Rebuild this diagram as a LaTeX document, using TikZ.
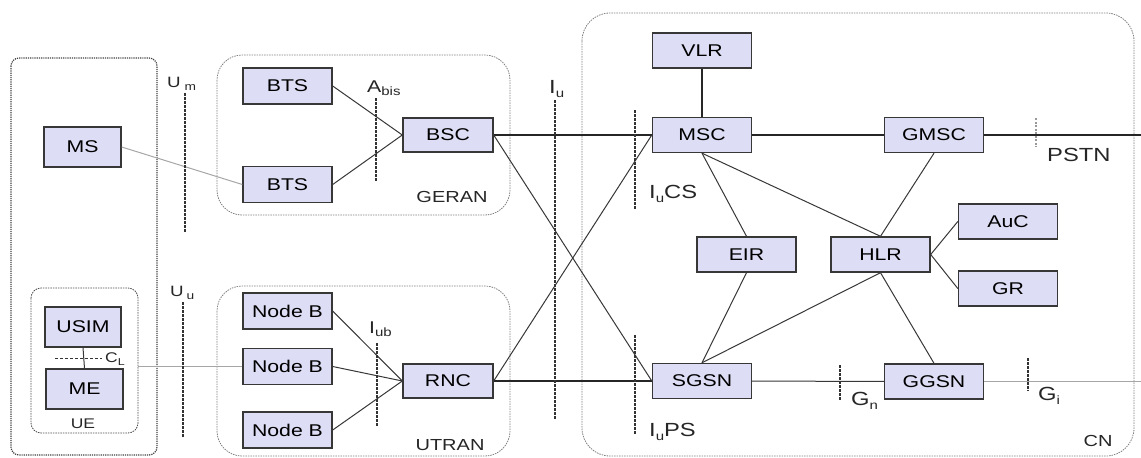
\documentclass[tikz,border=0pt]{standalone}
\usepackage{fontspec}
\setmainfont{Liberation Sans}[FakeStretch=1.25]
\usepackage{tikz}
\usetikzlibrary{calc}
\definecolor{boxfill}{RGB}{221,221,245}
\definecolor{edge}{RGB}{55,55,55}
\newcommand{\fsz}[1]{\fontsize{#1}{#1}\selectfont}
\newcommand{\lowtxt}[2][11]{\raisebox{-0.35ex}{\fsz{#1}#2}}

\begin{document}
\begin{tikzpicture}[x=1pt, y=-1pt,
  unit/.style={draw=edge, fill=boxfill, line width=1.4pt, minimum width=99pt, minimum height=35pt, inner sep=0pt, font=\fsz{17}},
  ranunit/.style={unit, minimum width=89pt, minimum height=36pt},
  termunit/.style={unit, minimum width=77pt, minimum height=40pt},
  group/.style={draw=gray, line width=0.8pt, dash pattern=on 1.5pt off 1pt, rounded corners=25pt},
  iface/.style={draw=black!80, line width=1.3pt, dash pattern=on 2.5pt off 1.5pt},
  link/.style={draw=edge, line width=1pt},
  trunk/.style={draw=black!85, line width=1.2pt},
  faint/.style={draw=gray!70, line width=1pt},
  lbl/.style={anchor=west, inner sep=0pt, text=black!85, font=\fsz{19}}]
\useasboundingbox (0,0) rectangle (1141,458);
% domains
\draw[densely dotted, line width=1.2pt, draw=black!75, rounded corners=8pt] (11,58) rectangle (157,455);
\draw[group, draw=black!70, rounded corners=10pt] (31,288) rectangle (138,433);
\draw[group] (217,55) rectangle (510,215);
\draw[group] (217,286) rectangle (510,456);
\draw[group, rounded corners=28pt] (582,13) rectangle (1134,456);
% terminal
\node[termunit] (ms) at (82.5,147) {MS};
\node[termunit, minimum width=76pt] (usim) at (83,327) {USIM};
\node[termunit] (me) at (84.5,389) {ME};
% access networks
\node[ranunit] (btsa) at (287.5,86) {BTS};
\node[ranunit] (btsb) at (287.5,184.5) {BTS};
\node[ranunit] (nba) at (287.5,311) {Node B};
\node[ranunit] (nbb) at (287.5,366.5) {Node B};
\node[ranunit] (nbc) at (287.5,430) {Node B};
\node[ranunit, minimum width=90pt, minimum height=34pt] (bsc) at (448,135) {BSC};
\node[ranunit, minimum width=90pt, minimum height=34pt] (rnc) at (448,381) {RNC};
% core network
\node[unit] (vlr) at (702,50.5) {VLR};
\node[unit] (msc) at (702,135) {MSC};
\node[unit] (sgsn) at (702,381) {SGSN};
\node[unit] (gmsc) at (934,135) {GMSC};
\node[unit] (ggsn) at (934,381.5) {GGSN};
\node[unit] (eir) at (746.5,254.5) {EIR};
\node[unit] (hlr) at (880.5,254.5) {HLR};
\node[unit] (auc) at (1008,221.5) {AuC};
\node[unit] (gr) at (1008,288.5) {GR};
\coordinate (uerim) at (138,366.5);
\coordinate (pstnend) at (1141,135);
\coordinate (giend) at (1141,381.5);
% links
\draw[link] (usim.south) -- (me.north);
\draw[black!80, line width=1pt, dash pattern=on 3pt off 2pt] (55,358) -- (102,358);
\draw[faint] (ms.east) -- (btsb.west);
\draw[faint] (uerim) -- (nbb.west);
\draw[link] (btsa.east) -- (bsc.west);
\draw[link] (btsb.east) -- (bsc.west);
\foreach \n in {nba,nbb,nbc} \draw[link] (\n.east) -- (rnc.west);
\draw[trunk] (bsc.east) -- (msc.west);
\draw[trunk] (rnc.east) -- (sgsn.west);
\draw[link] (bsc.east) -- (sgsn.west);
\draw[link] (rnc.east) -- (msc.west);
\draw[trunk] (vlr) -- (msc);
\draw[trunk] (msc) -- (gmsc);
\draw[trunk] (gmsc.east) -- (pstnend);
\draw[link] (msc.south) -- (eir.north);
\draw[link] (msc.south) -- (hlr.north);
\draw[link] (gmsc.south) -- (hlr.north);
\draw[link] (eir.south) -- (sgsn.north);
\draw[link] (hlr.south) -- (sgsn.north);
\draw[link] (hlr.south) -- (ggsn.north);
\draw[link] (hlr.east) -- (auc.west);
\draw[link] (hlr.east) -- (gr.west);
\draw[link] (sgsn) -- (ggsn);
\draw[faint] (ggsn.east) -- (giend);
% interfaces
\draw[iface] (185,93) -- (185,233);
\draw[iface] (183,302) -- (183,438);
\draw[iface] (376,98) -- (376,182);
\draw[iface] (377,343) -- (377,426);
\draw[iface] (555,100) -- (555,420);
\draw[iface] (635,110) -- (635,210);
\draw[iface] (635,335) -- (635,435);
\draw[draw=gray!80, line width=2.5pt, dash pattern=on 2pt off 1.5pt] (1036,118) -- (1036,147);
\draw[iface] (840,365) -- (840,400);
\draw[iface] (1028,358) -- (1028,391);
\node[lbl, font=\fsz{15}] (umlbl) at (167,84) {U\hspace{4pt}\lowtxt[11]{m}};
\node[lbl, font=\fsz{15}] (uulbl) at (170,293) {U\hspace{3pt}\lowtxt[11]{u}};
\node[lbl, font=\fsz{17}] (abislbl) at (367,88) {A\lowtxt[12]{bis}};
\node[lbl, font=\fsz{17}] (iublbl) at (369,329) {I\lowtxt[12]{ub}};
\node[lbl] (iulbl) at (549,89) {I\lowtxt[12]{u}};
\node[lbl] (iucslbl) at (649,194) {I\lowtxt[12]{u}CS};
\node[lbl] (iupslbl) at (649,432) {I\lowtxt[12]{u}PS};
\node[lbl] (pstnlbl) at (1047,155) {PSTN};
\node[lbl] (gnlbl) at (851,401) {G\lowtxt[12]{n}};
\node[lbl] (gilbl) at (1038,396) {G\lowtxt[12]{i}};
\node[lbl, font=\fsz{14}] (cllbl) at (105,359) {C\lowtxt[10]{L}};
\node[text=black!85, font=\fsz{16}] (geranlbl) at (452,197) {GERAN};
\node[text=black!85, font=\fsz{16}] (utranlbl) at (450,445) {UTRAN};
\node[text=black!85, font=\fsz{14}] (uelbl) at (83,424) {UE};
\node[text=black!85, font=\fsz{16}] (cnlbl) at (1098,441) {CN};
\end{tikzpicture}
\end{document}
